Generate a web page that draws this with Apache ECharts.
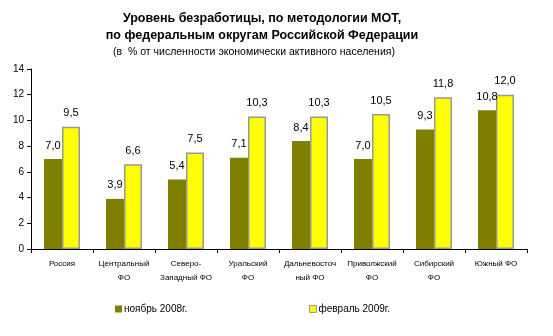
<!DOCTYPE html>
<html><head><meta charset="utf-8">
<script src="https://cdn.jsdelivr.net/npm/echarts@6/dist/echarts.min.js"></script>
<style>html,body{margin:0;padding:0;background:#fff}#c{width:553px;height:336px}</style>
</head><body><div id="c"></div>
<script>
// Unemployment rate (ILO methodology) by federal district, % of labour force
const categories = ['Россия', 'Центральный\nФО', 'Северо-\nЗападный ФО', 'Уральский\nФО',
  'Дальневосточ\nный ФО', 'Приволжский\nФО', 'Сибирский\nФО', 'Южный ФО'];
const nov2008 = [7.0, 3.9, 5.4, 7.1, 8.4, 7.0, 9.3, 10.8];
const feb2009 = [9.5, 6.6, 7.5, 10.3, 10.3, 10.5, 11.8, 12.0];
const seriesNames = ['ноябрь 2008г.', 'февраль 2009г.'];
const yTicks = [0, 2, 4, 6, 8, 10, 12, 14];

const font = 'Arial, "Liberation Sans", sans-serif';
const fmt = v => v.toFixed(1).replace('.', ',');
const labelStyle = {
  show: true, position: 'top', distance: 8,
  fontFamily: font, fontSize: 11, color: '#000',
  formatter: p => fmt(p.value)
};
const legendBase = {
  bottom: 17, itemWidth: 7, itemHeight: 7, icon: 'rect',
  textStyle: { fontFamily: font, fontSize: 10, color: '#000', padding: [0, 0, 0, -3] }
};

const chart = echarts.init(document.getElementById('c'), null, { renderer: 'canvas' });
chart.setOption({
  animation: false,
  backgroundColor: '#fff',
  title: [
    { text: 'Уровень безработицы, по методологии МОТ,\nпо федеральным округам Российской Федерации',
      left: 257, top: 5, textAlign: 'center',
      textStyle: { fontFamily: font, fontSize: 12.5, fontWeight: 'bold', color: '#000', lineHeight: 17 } },
    { text: '(в  % от численности экономически активного населения)',
      left: 249, top: 42, textAlign: 'center',
      textStyle: { fontFamily: font, fontSize: 10.5, fontWeight: 'normal', color: '#000' } }
  ],
  legend: [
    Object.assign({}, legendBase, { left: 110, data: [seriesNames[0]] }),
    Object.assign({}, legendBase, { left: 304,
      data: [{ name: seriesNames[1], itemStyle: { borderColor: '#999', borderWidth: 1 } }] })
  ],
  grid: { left: 31, right: 26, top: 69, bottom: 87, containLabel: false },
  xAxis: {
    type: 'category', data: categories,
    axisLine: { lineStyle: { color: '#000', width: 1 } },
    axisTick: { show: true, alignWithLabel: false, length: 4, lineStyle: { color: '#000' } },
    axisLabel: { fontFamily: font, fontSize: 8, color: '#000', lineHeight: 14, margin: 8, interval: 0 }
  },
  yAxis: {
    type: 'value', min: 0, max: 14, interval: 2,
    splitLine: { show: false },
    axisLine: { show: true, lineStyle: { color: '#000', width: 1 } },
    axisTick: { show: true, length: 4, lineStyle: { color: '#000' } },
    axisLabel: { fontFamily: font, fontSize: 10, color: '#000', margin: 7,
      formatter: v => yTicks.includes(v) ? String(v) : '' }
  },
  series: [
    { name: seriesNames[0], type: 'bar', data: nov2008, barWidth: 18, barGap: '0%',
      itemStyle: { color: '#808000' }, label: labelStyle },
    { name: seriesNames[1], type: 'bar', data: feb2009, barWidth: 18,
      itemStyle: { color: '#FFFF00', borderColor: '#999', borderWidth: 1.5 }, label: labelStyle }
  ]
});
</script></body></html>
